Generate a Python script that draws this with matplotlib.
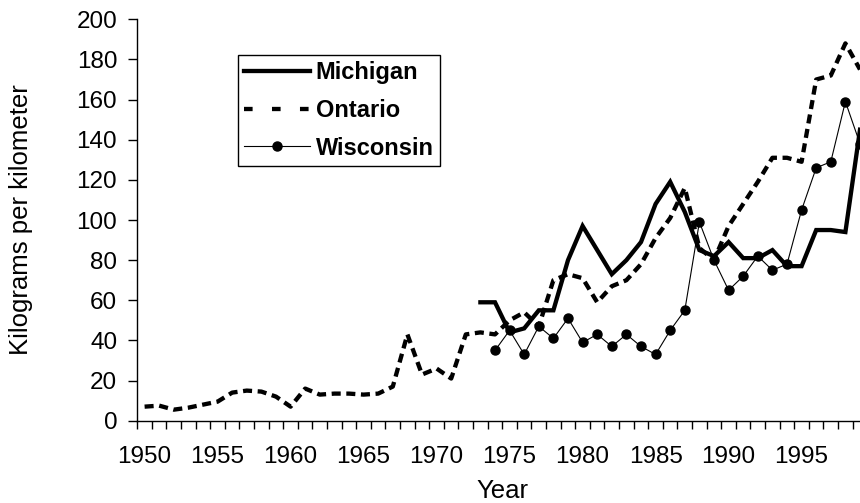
import numpy as np
import matplotlib
matplotlib.use("Agg")
import matplotlib.pyplot as plt
from matplotlib.lines import Line2D
from matplotlib.ticker import MultipleLocator

plt.rcParams['font.family'] = ['Liberation Sans', 'DejaVu Sans']

# Years on the category axis
years = np.arange(1950, 2000)
tick_years = [1950, 1955, 1960, 1965, 1970, 1975, 1980, 1985, 1990, 1995]

# Kilograms per kilometer
ontario = [7, 7.5, 5.5, 6.5, 8, 9.5, 14, 15, 14.5, 12,
           7, 16, 13, 13.5, 13.5, 13, 13.5, 17, 43, 23,
           26, 21, 43, 44, 43, 50, 54, 47, 70, 73,
           71, 59, 67, 70, 78, 91, 101, 116, 86, 80,
           97, 108, 119, 131, 131, 129, 170, 172, 188, 175]
michigan = [59, 59, 44, 46, 55, 55, 80, 97, 85, 73,
            80, 89, 108, 119, 104, 85, 82, 89, 81, 81,
            85, 77, 77, 95, 95, 94, 145]          # 1973-1999
wisconsin = [35, 45, 33, 47, 41, 51, 39, 43, 37, 43,
             37, 33, 45, 55, 99, 80, 65, 72, 82, 75,
             78, 105, 126, 129, 159, 138]          # 1974-1999

fig = plt.figure(figsize=(8.6, 5.03), dpi=100)
# axis runs a little past the right edge of the picture, like the cropped original
ax = fig.add_axes([137.3 / 860, 82.3 / 503, 730 / 860, 401.4 / 503])

ax.plot(years, ontario, color='black', lw=3.1, linestyle=(0, (2.1, 1.3)),
        dash_capstyle='butt', clip_on=False)
ax.plot(years[-len(michigan):], michigan, color='black', lw=3.1,
        solid_joinstyle='miter')
ax.plot(years[-len(wisconsin):], wisconsin, color='black', lw=0.8,
        marker='o', markersize=6.5)

ax.set_xlim(1949.5, 1999.5)
ax.set_ylim(0, 200)
ax.set_yticks(np.arange(0, 201, 20))
ax.set_xticks(tick_years)
ax.xaxis.set_minor_locator(MultipleLocator(1, offset=0.5))

for side in ['top', 'right']:
    ax.spines[side].set_visible(False)
for side in ['left', 'bottom']:
    ax.spines[side].set_linewidth(1.0)

ax.tick_params(axis='x', which='major', length=0, pad=18, labelsize=17.5)
ax.tick_params(axis='x', which='minor', length=6, width=1.0, direction='out')
ax.tick_params(axis='y', length=6.5, width=1.0, direction='out', pad=8,
               labelsize=17.5)

ax.set_xlabel('Year', fontsize=18.5)
ax.set_ylabel('Kilograms per kilometer', fontsize=18.5)
ax.xaxis.set_label_coords(0.5, -0.145)
ax.yaxis.set_label_coords(-0.143, 0.5)

handles = [
    Line2D([], [], color='black', lw=3.1),
    Line2D([], [], color='black', lw=3.1, linestyle=(0, (2.0, 4.5)),
           dash_capstyle='butt'),
    Line2D([], [], color='black', lw=0.8, marker='o', markersize=6.5),
]
leg = ax.legend(handles, ['Michigan', 'Ontario', 'Wisconsin'],
                loc='upper left', bbox_to_anchor=(238 / 860, 1 - 55 / 503),
                bbox_transform=fig.transFigure, borderaxespad=0,
                prop={'size': 17, 'weight': 'bold'}, handlelength=2.8,
                handletextpad=0.22, borderpad=0.27, labelspacing=0.62,
                fancybox=False, framealpha=1, edgecolor='black')
leg.get_frame().set_linewidth(1.0)

fig.savefig('out.png', dpi=100)
